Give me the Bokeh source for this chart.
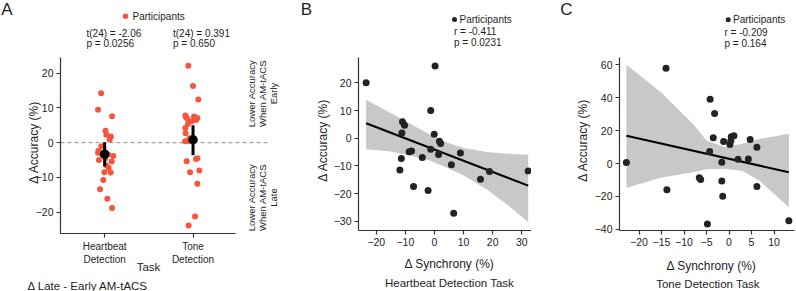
import math
from bokeh.plotting import figure
from bokeh.layouts import row
from bokeh.models import Range1d, Label, FixedTicker, CustomJSTickFormatter, LinearAxis
from bokeh.embed import file_html
from bokeh.resources import INLINE

FONT = "Liberation Sans"
INK = "#1e1e1e"
AXIS = "#333333"
RED = "#f4553c"
DOT = "#232323"
BAND = "#c8c8c8"
H = 291

# ---- Panel A: change in accuracy (late - early AM-tACS) per participant ----
task_labels = ["Heartbeat\nDetection", "Tone\nDetection"]
hb_acc = [14.2, 9.5, 7.6, 3.4, 2.3, 1.8, 0.9, -1.0, -2.9, -3.2, -3.4, -3.8, -3.0,
          -4.5, -5.4, -6.5, -7.2, -8.5, -8.6, -10.7, -13.4, -16.1, -18.8, -2.3, -5.0]
hb_jitter = [-0.04, -0.075, 0.084, 0.01, 0.02, 0.07, 0.057, -0.037, -0.075, -0.037,
             0.038, 0.098, -0.003, 0.008, 0.08, 0.016, 0.045, -0.003, 0.068, -0.015,
             -0.052, 0.03, 0.084, -0.07, -0.065]
tone_acc = [22.1, 16.3, 12.4, 7.8, 7.3, 7.5, 7.1, 6.9, 6.5, 6.2, 5.4, 4.2, 2.7, 1.3,
            0.4, 0.4, 1.0, -5.3, -4.7, -4.5, -8.0, -8.5, -11.8, -21.2, -23.8]
tone_jitter = [-0.053, 0.0, 0.06, -0.087, -0.079, 0.011, 0.049, -0.064, 0.034, -0.016,
               -0.057, -0.087, -0.084, -0.038, -0.09, -0.059, -0.02, -0.072, 0.034,
               0.049, 0.071, -0.034, 0.049, 0.023, -0.05]
task_mean = [-3.3, 0.85]
task_ci_low = [-6.8, -3.6]
task_ci_high = [0.1, 5.0]
task_t = ["t(24) = -2.06", "t(24) = 0.391"]
task_p = ["p = 0.0256", "p = 0.650"]

# ---- Panel B: heartbeat detection task ----
hb_sync = [-23.5, 0.2, -1.3, -11.0, -10.3, -11.2, -0.1, 1.7, 2.1, -1.3, 1.4, -8.7,
           -7.9, -4.2, -11.4, -11.9, 8.9, 5.8, -7.2, -2.2, 6.6, 15.8, 18.9, 32.2]
hb_dacc = [20.0, 26.1, 10.0, 5.9, 4.7, 1.9, 1.4, -1.1, -1.9, -4.0, -5.9, -4.9, -4.6,
           -7.0, -7.3, -11.5, -5.3, -9.6, -17.4, -18.9, -27.1, -14.8, -12.0, -11.8]
hb_fit = (-4.1, -0.405)  # intercept, slope
hb_band_x = [-23.5, -15, -8, -2, 4, 10, 18, 25, 32.2]
hb_band_hi = [13.9, 9.0, 5.0, 1.5, -1.5, -3.5, -5.0, -5.6, -6.0]
hb_band_lo = [-4.0, -4.8, -6.3, -8.0, -10.5, -13.5, -18.5, -24.0, -30.3]
hb_stats = ["r = -0.411", "p = 0.0231"]

# ---- Panel C: tone detection task ----
tone_sync = [-22.8, -14.0, -13.8, -4.2, -3.2, -3.5, -4.3, -1.2, -1.6, -1.6, -1.4,
             -6.6, -6.3, -4.8, 0.2, 0.4, 0.5, 1.1, 2.0, 4.3, 4.7, 6.2, 6.2, 13.3]
tone_dacc = [0.6, 57.9, -16.0, 39.0, 30.4, 15.6, 7.3, 13.4, 0.8, -10.7, -19.9, -8.7,
             -9.7, -36.8, 11.5, 13.8, 16.2, 16.8, 2.6, 2.8, 14.6, 9.9, -14.0, -34.8]
tone_fit = (2.85, -0.612)
tone_band_x = [-22.8, -15, -8, -5, -1, 3, 7, 13.3]
tone_band_hi = [59.9, 43.0, 24.0, 14.0, 10.0, 12.0, 15.0, 18.0]
tone_band_lo = [-14.8, -8.5, -5.3, -3.5, -3.2, -4.5, -11.0, -26.5]
tone_stats = ["r = -0.209", "p = 0.164"]

MINUS_FMT = CustomJSTickFormatter(
    code="return tick < 0 ? '\u2212' + Math.abs(tick) : '' + tick;")


def style_axis(ax):
    ax.axis_line_color = AXIS
    ax.axis_line_width = 1.2
    ax.major_tick_line_color = AXIS
    ax.major_tick_line_width = 1.2
    ax.major_tick_out = 4
    ax.major_tick_in = 0
    ax.minor_tick_line_color = None
    ax.major_label_text_font = FONT
    ax.major_label_text_font_size = "10.5px"
    ax.major_label_text_color = INK
    ax.major_label_standoff = 3


def make_fig(width, xr, yr, x_at, y_at, xticks, yticks, xbounds, ybounds):
    # The frame fills the whole canvas; axes sit at fixed data locations inside it.
    p = figure(width=width, height=H, x_range=Range1d(*xr), y_range=Range1d(*yr),
               output_backend="svg", toolbar_location=None,
               x_axis_type=None, y_axis_type=None,
               min_border_left=0, min_border_right=0,
               min_border_top=0, min_border_bottom=0)
    p.outline_line_color = None
    p.grid.visible = False
    p.background_fill_color = "white"
    p.border_fill_color = "white"
    xa = LinearAxis(fixed_location=y_at, ticker=FixedTicker(ticks=xticks),
                    formatter=MINUS_FMT, bounds=xbounds)
    ya = LinearAxis(fixed_location=x_at, ticker=FixedTicker(ticks=yticks),
                    formatter=MINUS_FMT, bounds=ybounds)
    style_axis(xa)
    style_axis(ya)
    p.add_layout(xa, "below")
    p.add_layout(ya, "left")
    return p, xa, ya


def text(p, x, y, s, size="10px", align="left", angle=0.0, color=INK):
    p.add_layout(Label(x=x, y=y, text=s, text_font=FONT, text_font_size=size,
                       text_color=color, text_align=align, text_baseline="middle",
                       angle=angle))


# ================= Panel A =================
# page px -> data coordinates
ax_ = lambda px: -0.5 + (px - 60) / 88.35
ay_ = lambda py: (142.2 - py) / 3.478
pa, pa_x, pa_y = make_fig(280, (ax_(0), ax_(280)), (ay_(291), ay_(0)),
                          ax_(60), ay_(233), [0, 1], [-20, -10, 0, 10, 20],
                          (-0.5, 1.48), (ay_(233), ay_(57)))
pa_x.formatter = CustomJSTickFormatter(code="return '';")
pa_x.major_label_overrides = {0: task_labels[0], 1: task_labels[1]}
pa_x.major_label_text_font_size = "10px"

pa.segment(x0=[-0.5], y0=[0], x1=[ax_(270)], y1=[0], line_color="#8a8a8a",
           line_width=1, line_dash="4 3")
pa.scatter([j for j in hb_jitter], hb_acc, size=6, color=RED, line_color=None)
pa.scatter([1 + j for j in tone_jitter], tone_acc, size=6, color=RED, line_color=None)
pa.segment(x0=[0, 1], y0=task_ci_low, x1=[0, 1], y1=task_ci_high,
           line_color="black", line_width=3)
pa.scatter([0, 1], task_mean, size=9.5, color="black", line_color=None)

# legend and test statistics
pa.scatter([ax_(125)], [ay_(15.7)], size=5.5, color=RED, line_color=None)
text(pa, ax_(132), ay_(15.7), "Participants")
for i, (tt, pp) in enumerate(zip(task_t, task_p)):
    x0 = [86, 172.5][i]
    text(pa, ax_(x0), ay_(33), tt)
    text(pa, ax_(x0), ay_(43), pp)

# rotated annotation on the right
for cy, last in [(93, "Early"), (197, "Late")]:
    for xp, s in [(251, "Lower Accuracy"), (262, "When AM-tACS"), (273, last)]:
        text(pa, ax_(xp), ay_(cy), s, size="9.5px", align="center", angle=math.pi / 2)

text(pa, ax_(6.5), ay_(9), "A", size="17px", align="center")
text(pa, ax_(33.5), ay_(142), "\u0394 Accuracy (%)", size="12px", align="center",
     angle=math.pi / 2)
text(pa, ax_(148), ay_(266), "Task", size="11.5px", align="center")
text(pa, ax_(27), ay_(285), "\u0394 Late - Early AM-tACS", size="11.5px")

# ================= Panel B =================
bx_ = lambda px: (px - 434) / 2.91
by_ = lambda py: (137.7 - py) / 2.77
pb, _, _ = make_fig(251, (bx_(280), bx_(531)), (by_(291), by_(0)),
                    bx_(358), by_(230), [-20, -10, 0, 10, 20, 30],
                    [-30, -20, -10, 0, 10, 20],
                    (bx_(358), bx_(531)), (by_(230), by_(57)))

pb.varea(x=hb_band_x, y1=hb_band_lo, y2=hb_band_hi, fill_color=BAND)
fx = [min(hb_band_x), max(hb_band_x)]
pb.line(fx, [hb_fit[0] + hb_fit[1] * v for v in fx], line_color="black", line_width=2)
pb.scatter(hb_sync, hb_dacc, size=7, color=DOT, line_color=None)

pb.scatter([bx_(454)], [by_(19)], size=5, color=DOT, line_color=None)
text(pb, bx_(459), by_(19), "Participants")
text(pb, bx_(453.5), by_(31), hb_stats[0])
text(pb, bx_(453.5), by_(42.3), hb_stats[1])
text(pb, bx_(306), by_(9), "B", size="17px", align="center")
text(pb, bx_(322), by_(140), "\u0394 Accuracy (%)", size="12px", align="center",
     angle=math.pi / 2)
text(pb, bx_(449), by_(263.5), "\u0394 Synchrony (%)", size="12px", align="center")
text(pb, bx_(449), by_(282), "Heartbeat Detection Task", size="11.5px", align="center")

# ================= Panel C =================
cx_ = lambda px: (px - 728.5) / 4.5
cy_ = lambda py: (163 - py) / 1.647
pc, _, _ = make_fig(265, (cx_(531), cx_(796)), (cy_(291), cy_(0)),
                    cx_(619), cy_(230), [-20, -15, -10, -5, 0, 5, 10],
                    [-40, -20, 0, 20, 40, 60],
                    (cx_(619), cx_(794)), (cy_(230), cy_(57)))

pc.varea(x=tone_band_x, y1=tone_band_lo, y2=tone_band_hi, fill_color=BAND)
fx = [min(tone_band_x), max(tone_band_x)]
pc.line(fx, [tone_fit[0] + tone_fit[1] * v for v in fx], line_color="black", line_width=2)
pc.scatter(tone_sync, tone_dacc, size=7, color=DOT, line_color=None)

pc.scatter([cx_(727.7)], [cy_(19.3)], size=5, color=DOT, line_color=None)
text(pc, cx_(732.5), cy_(19.3), "Participants")
text(pc, cx_(724), cy_(32), tone_stats[0])
text(pc, cx_(724), cy_(42.5), tone_stats[1])
text(pc, cx_(566), cy_(9), "C", size="17px", align="center")
text(pc, cx_(582), cy_(140), "\u0394 Accuracy (%)", size="12px", align="center",
     angle=math.pi / 2)
text(pc, cx_(711), cy_(265), "\u0394 Synchrony (%)", size="12px", align="center")
text(pc, cx_(707.5), cy_(283), "Tone Detection Task", size="11.5px", align="center")

layout = row(pa, pb, pc, spacing=0)
open("out.html", "w").write(file_html(layout, INLINE))
